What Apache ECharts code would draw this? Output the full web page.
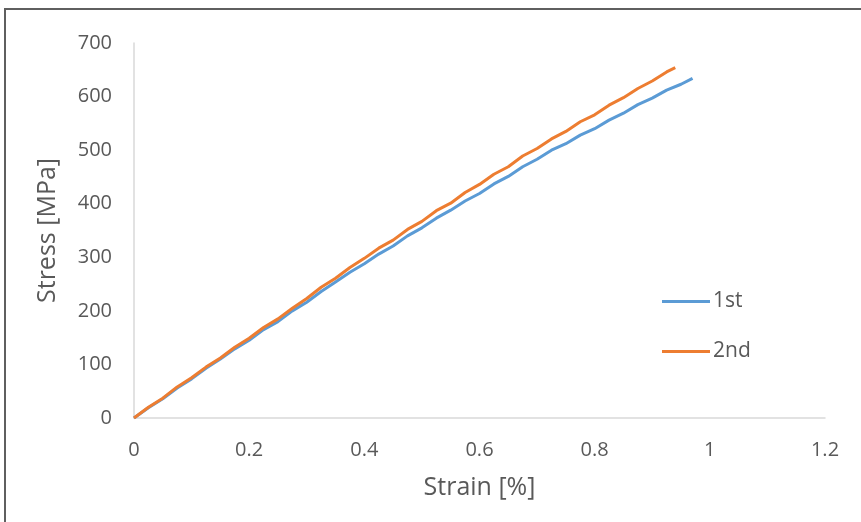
<!DOCTYPE html>
<html>
<head>
<meta charset="utf-8">
<script src="https://cdn.jsdelivr.net/npm/echarts@6/dist/echarts.min.js"></script>
<style>html,body{margin:0;padding:0;background:#fff}#c{width:861px;height:522px}</style>
</head>
<body>
<div id="c"></div>
<script>
var strain1 = [0,0.025,0.05,0.075,0.1,0.125,0.15,0.175,0.2,0.225,0.25,0.275,0.3,0.325,0.35,0.375,0.4,0.425,0.45,0.475,0.5,0.525,0.55,0.575,0.6,0.625,0.65,0.675,0.7,0.725,0.75,0.775,0.8,0.825,0.85,0.875,0.9,0.925,0.95,0.97];
var stress1 = [0,19,36,56,73,93,110,129,145,165,180,200,216,236,254,272,288,306,321,340,355,373,388,405,419,437,451,469,483,500,512,528,540,556,569,585,597,612,623,634];
var strain2 = [0,0.025,0.05,0.075,0.1,0.125,0.15,0.175,0.2,0.225,0.25,0.275,0.3,0.325,0.35,0.375,0.4,0.425,0.45,0.475,0.5,0.525,0.55,0.575,0.6,0.625,0.65,0.675,0.7,0.725,0.75,0.775,0.8,0.825,0.85,0.875,0.9,0.925,0.94];
var stress2 = [0,20,37,58,75,95,112,132,149,169,185,205,223,244,261,281,298,317,332,352,367,387,401,421,436,455,469,489,503,521,535,553,566,584,598,615,629,646,654];
var seriesNames = ['1st','2nd'];
var xTicks = {min:0, max:1.2, interval:0.2};
var yTicks = {min:0, max:700, interval:100};
var xTitle = 'Strain [%]';
var yTitle = 'Stress [MPa]';

function pairs(xs, ys){ return xs.map(function(x,i){ return [x, ys[i]]; }); }

var chart = echarts.init(document.getElementById('c'), null, {renderer:'canvas'});
var font = '"Open Sans", "Noto Sans", sans-serif';
var txt = '#595959';
chart.setOption({
  animation:false,
  backgroundColor:'#fff',
  textStyle:{fontFamily:font},
  graphic:[{type:'rect', shape:{x:5,y:9,width:900,height:600}, style:{fill:'none', stroke:'#5f5f5f', lineWidth:2}, silent:true, z:100}],
  grid:{left:134, right:36, top:43, bottom:104, containLabel:false},
  legend:{
    orient:'vertical', left:657, top:286,
    itemWidth:48, itemHeight:20, itemGap:29,
    icon:'path://M0,8.5 L48,8.5 L48,11.5 L0,11.5 Z',
    textStyle:{color:txt, fontSize:21, fontFamily:font, padding:[0,0,0,-2]},
    data:seriesNames
  },
  xAxis:{
    type:'value', min:xTicks.min, max:xTicks.max, interval:xTicks.interval,
    name:xTitle, nameLocation:'middle', nameGap:57,
    nameTextStyle:{color:txt, fontSize:25, fontFamily:font},
    axisLine:{show:true, lineStyle:{color:'#d9d9d9', width:1.5}},
    axisTick:{show:false},
    splitLine:{show:false},
    axisLabel:{color:txt, fontSize:20, margin:22, fontFamily:font}
  },
  yAxis:{
    type:'value', min:yTicks.min, max:yTicks.max, interval:yTicks.interval,
    name:yTitle, nameLocation:'middle', nameGap:74, nameRotate:90,
    nameTextStyle:{color:txt, fontSize:25, fontFamily:font},
    axisLine:{show:true, lineStyle:{color:'#d9d9d9', width:1.5}},
    axisTick:{show:false},
    splitLine:{show:false},
    axisLabel:{color:txt, fontSize:20, margin:22, fontFamily:font}
  },
  series:[
    {name:seriesNames[0], type:'line', showSymbol:false, symbol:'none', data:pairs(strain1,stress1),
     lineStyle:{color:'#5B9BD5', width:3}, itemStyle:{color:'#5B9BD5'}},
    {name:seriesNames[1], type:'line', showSymbol:false, symbol:'none', data:pairs(strain2,stress2),
     lineStyle:{color:'#ED7D31', width:3}, itemStyle:{color:'#ED7D31'}}
  ]
});
</script>
</body>
</html>
